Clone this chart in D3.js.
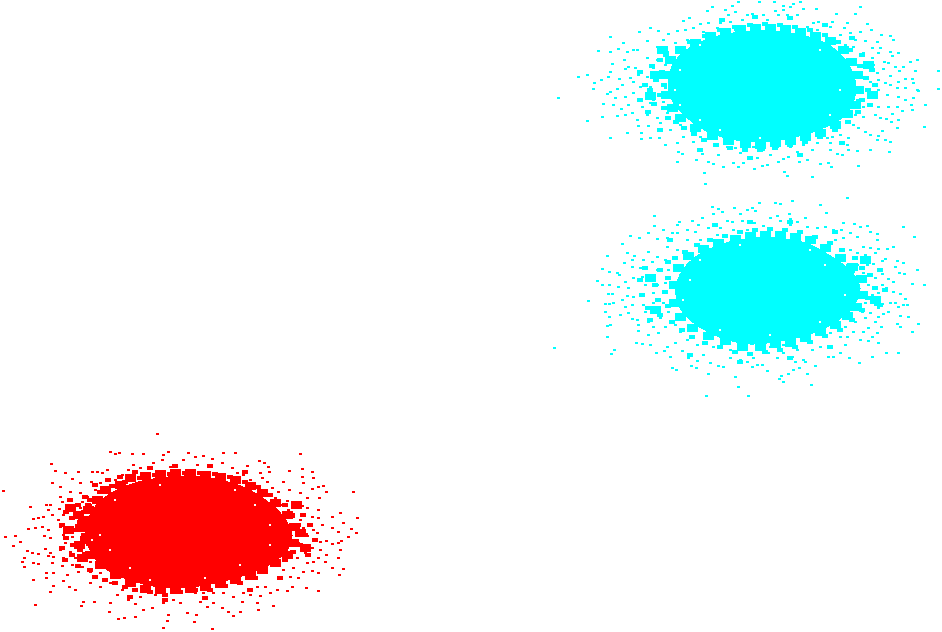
<!DOCTYPE html>
<html><head><meta charset="utf-8"><script src="https://cdn.jsdelivr.net/npm/d3@7"></script>
<style>html,body{margin:0;padding:0;background:#fff;overflow:hidden}svg{display:block}</style></head><body>
<script>
const redCore=[[88,530],[95,510],[112,495],[135,485],[160,480],[190,478],[220,482],[245,490],[265,502],[282,518],[290,535],[285,550],[268,563],[245,573],[220,580],[190,585],[160,585],[130,578],[108,568],[93,552]];
const cyanTopCore=[[670,85],[675,65],[690,50],[712,40],[740,34],[770,33],[800,37],[825,45],[843,60],[853,80],[852,100],[840,117],[818,128],[790,136],[760,140],[730,137],[705,128],[685,113],[673,98]];
const cyanBottomCore=[[678,295],[682,275],[695,260],[717,248],[745,241],[775,240],[805,245],[830,258],[850,273],[858,288],[852,305],[835,320],[810,332],[780,339],[750,342],[722,336],[700,325],[685,312]];
const redEdge=[[83,520],[85,540],[88,510],[90,555],[97,500],[100,565],[105,490],[115,575],[120,485],[130,478],[130,583],[145,476],[145,589],[160,474],[160,590],[175,473],[175,590],[190,473],[190,589],[205,475],[205,587],[220,477],[220,584],[235,480],[235,580],[250,486],[250,576],[262,493],[262,570],[275,503],[275,563],[287,515],[287,555],[294,527],[293,543],[80,528],[78,515],[79,545],[82,558],[300,533],[68,530],[70,508],[296,505],[305,548]];
const cyanTopEdge=[[666,75],[666,95],[670,60],[672,108],[680,50],[680,118],[695,43],[695,128],[710,36],[712,136],[725,32],[728,141],[740,29],[745,144],[755,28],[760,145],[770,28],[775,143],[785,29],[790,141],[800,32],[805,137],[815,36],[820,133],[830,41],[835,125],[843,50],[847,114],[851,62],[855,105],[857,75],[858,90],[655,75],[650,96],[662,50],[868,65],[872,95]];
const cyanBottomEdge=[[674,285],[674,303],[678,268],[680,317],[688,256],[692,328],[703,249],[708,336],[718,243],[725,341],[735,239],[742,347],[750,236],[760,347],[765,235],[775,344],[780,235],[790,343],[795,237],[805,338],[810,240],[820,332],[825,248],[835,325],[840,258],[847,316],[852,267],[856,307],[861,279],[862,295],[650,278],[655,310],[865,260],[875,300]];
const redClumps=[[85,497],[78,505],[84,512],[72,518],[80,522],[88,505],[76,530],[84,535],[66,538],[73,545],[80,550],[72,555],[84,560],[78,566],[90,570],[95,577],[105,580],[115,583],[125,587],[135,590],[150,592],[165,595],[180,592],[195,590],[210,590],[225,586],[240,583],[255,578],[265,572],[275,565],[285,560],[293,552],[300,545],[305,535],[298,525],[292,515],[303,515],[285,505],[270,495],[258,487],[245,482],[230,477],[215,474],[200,473],[185,473],[170,474],[155,475],[140,478],[125,482],[112,486],[100,492],[90,500],[95,485],[108,480],[120,477],[135,472],[62,525],[66,512],[70,500],[62,548],[65,560],[150,468],[175,466],[210,466],[245,472],[315,540],[310,525],[308,555],[280,578],[250,590],[130,597],[165,600],[205,598]];
const cyanTopClumps=[[660,60],[652,66],[662,72],[656,80],[664,85],[650,90],[660,95],[654,104],[664,108],[668,118],[676,122],[684,128],[694,134],[704,140],[716,145],[730,148],[745,150],[760,150],[775,148],[790,145],[805,142],[820,137],[835,130],[848,122],[858,112],[862,100],[868,90],[866,78],[860,66],[862,55],[850,50],[838,42],[825,35],[810,30],[795,27],[780,25],[765,24],[750,25],[735,27],[720,30],[705,36],[690,42],[678,50],[666,55],[872,70],[875,85],[870,105],[640,72],[645,85],[640,100],[648,112],[722,20],[755,17],[790,18],[825,25],[852,38],[660,130],[700,150],[750,158],[800,155],[842,143]];
const cyanBottomClumps=[[668,262],[660,270],[668,278],[655,285],[665,292],[658,300],[668,306],[660,315],[672,322],[682,330],[692,337],[705,343],[720,347],[735,352],[750,354],[765,352],[780,350],[795,347],[810,342],[825,336],[840,330],[852,320],[862,310],[868,298],[875,288],[870,275],[862,268],[855,258],[842,250],[830,243],[815,237],[800,232],[785,230],[770,229],[755,230],[740,232],[725,236],[710,240],[697,245],[685,252],[675,258],[645,268],[640,280],[642,295],[648,308],[650,320],[885,290],[880,305],[880,270],[750,222],[715,225],[790,222],[835,232],[670,240],[690,355],[740,362],[790,358],[830,347]];
const redGaps=[[100,535],[115,500],[130,568],[150,580],[235,490],[255,505],[270,545],[240,565],[205,578],[270,525],[110,550],[92,540],[160,485]];
const cyanTopGaps=[[680,70],[680,105],[700,45],[720,130],[760,138],[820,50],[840,90],[830,115],[700,120],[675,90]];
const cyanBottomGaps=[[690,280],[683,300],[700,260],[720,330],[770,335],[825,265],[845,295],[820,322],[740,245],[810,250]];
const redPoints=[[157,434],[110,452],[119,453],[115,454],[132,454],[143,454],[163,455],[168,452],[188,453],[51,464],[55,471],[78,472],[65,473],[92,472],[97,472],[107,470],[102,473],[133,465],[140,468],[153,463],[162,460],[183,460],[170,467],[128,470],[52,483],[72,479],[80,483],[91,482],[100,483],[115,480],[122,475],[3,491],[60,487],[70,492],[80,493],[87,497],[95,490],[98,498],[60,497],[107,492],[30,507],[50,505],[46,505],[62,502],[82,502],[90,505],[48,510],[59,509],[70,510],[80,508],[33,519],[38,518],[43,517],[52,515],[63,515],[75,515],[83,517],[58,520],[28,529],[35,528],[42,527],[48,530],[60,527],[68,527],[78,525],[87,528],[5,537],[15,536],[20,542],[13,546],[44,536],[50,538],[63,535],[72,537],[82,537],[65,543],[78,545],[87,545],[45,549],[27,551],[32,553],[38,554],[50,553],[60,550],[70,552],[83,553],[24,558],[22,562],[33,563],[38,564],[48,556],[53,557],[63,558],[75,558],[90,562],[24,567],[52,563],[62,566],[72,565],[82,567],[46,573],[53,573],[67,575],[78,572],[90,572],[100,573],[33,580],[46,578],[63,581],[53,586],[69,587],[75,590],[50,592],[90,583],[100,587],[110,583],[122,590],[35,605],[81,606],[83,602],[94,602],[110,603],[109,612],[118,619],[124,618],[135,604],[143,610],[135,617],[152,608],[163,603],[168,615],[167,621],[163,628],[187,613],[180,603],[117,595],[128,600],[140,597],[155,595],[173,600],
[235,453],[223,453],[203,456],[195,457],[212,459],[259,461],[300,454],[197,465],[210,466],[222,463],[232,468],[247,466],[264,463],[268,467],[289,471],[302,469],[269,472],[312,472],[193,472],[237,473],[243,475],[260,473],[302,477],[313,478],[250,480],[262,478],[267,482],[283,482],[303,483],[323,486],[312,489],[318,487],[289,490],[272,488],[278,492],[300,493],[326,492],[353,492],[307,498],[319,498],[287,501],[295,502],[275,498],[265,502],[302,506],[307,508],[318,510],[288,510],[280,505],[312,517],[332,517],[340,513],[357,518],[318,518],[300,520],[293,517],[322,525],[343,523],[332,528],[338,532],[351,529],[356,533],[348,537],[313,530],[303,528],[297,532],[307,536],[317,533],[326,541],[341,541],[332,544],[338,543],[320,542],[312,548],[320,550],[340,550],[326,555],[305,553],[298,543],[290,545],[338,558],[318,558],[313,562],[307,563],[325,562],[297,558],[287,557],[332,568],[343,569],[312,571],[318,573],[303,572],[293,568],[283,570],[339,575],[298,578],[290,577],[278,578],[306,588],[318,591],[292,587],[287,591],[277,590],[265,587],[257,587],[250,595],[243,593],[260,596],[270,593],[233,597],[223,593],[213,593],[203,593],[195,593],[213,603],[222,608],[207,607],[233,616],[240,612],[228,612],[258,610],[273,606],[196,615],[194,622],[212,629],[257,603],[242,602],[200,602]];
const cyanTopPoints=[[558,98],[578,77],[587,75],[594,83],[593,89],[587,121],[602,117],[603,104],[601,80],[610,37],[598,51],[610,52],[623,43],[618,49],[627,52],[639,32],[647,41],[637,50],[612,64],[624,60],[633,50],[628,67],[625,69],[610,72],[608,77],[619,79],[630,78],[635,68],[638,75],[647,77],[622,85],[617,89],[610,92],[607,94],[633,82],[640,87],[650,87],[615,98],[625,97],[633,93],[647,95],[613,105],[628,105],[621,109],[642,107],[650,103],[632,113],[617,116],[625,115],[647,115],[637,120],[657,118],[638,126],[648,126],[660,123],[670,130],[610,138],[627,133],[641,133],[641,139],[650,138],[659,138],[665,145],[677,143],[683,137],[693,142],[678,152],[682,154],[677,162],[702,154],[708,162],[696,160],[713,164],[718,155],[723,167],[733,163],[738,167],[743,163],[704,173],[705,184],[727,147],[740,153],[747,147],[738,2],[732,6],[712,7],[707,11],[725,10],[735,12],[728,15],[747,15],[689,18],[683,21],[700,24],[708,23],[720,23],[730,22],[742,20],[650,28],[658,31],[677,31],[685,30],[668,34],[693,28],[703,32],[717,28],[735,30],[747,32],[663,40],[675,43],[687,40],[697,40],[708,38],[657,47],[667,52],[682,48],[693,48],[647,58],[657,60],[665,65],[653,68],[660,77],[665,88],[653,100],[663,102],[667,113],[680,125],[700,137],[717,145],[735,148],
[759,2],[774,2],[793,4],[800,2],[783,6],[790,7],[775,11],[783,10],[803,9],[816,9],[860,7],[836,14],[855,14],[797,15],[778,15],[763,15],[752,14],[787,15],[767,20],[818,22],[813,23],[832,22],[847,23],[867,24],[795,27],[807,27],[830,27],[844,28],[860,32],[871,30],[881,35],[850,33],[840,35],[817,30],[890,36],[893,40],[855,40],[865,41],[877,42],[845,45],[853,47],[872,48],[880,48],[890,52],[898,53],[863,53],[878,53],[892,56],[872,58],[884,62],[910,62],[917,60],[865,63],[873,65],[857,65],[888,63],[895,67],[903,67],[883,69],[899,71],[915,71],[938,71],[853,72],[877,73],[890,76],[905,79],[898,82],[912,79],[863,78],[870,82],[878,80],[885,83],[890,85],[913,83],[918,91],[938,89],[855,88],[867,90],[878,90],[887,95],[897,88],[905,88],[917,90],[898,97],[913,98],[905,100],[857,100],[870,97],[878,107],[888,107],[897,107],[925,105],[911,105],[902,111],[912,110],[863,107],[875,115],[863,117],[855,115],[892,114],[886,119],[891,122],[898,120],[880,118],[853,125],[865,132],[858,128],[897,128],[924,127],[882,131],[878,136],[885,140],[890,142],[877,140],[870,135],[848,138],[840,135],[832,137],[827,138],[817,143],[847,145],[830,143],[837,154],[842,155],[830,150],[812,150],[797,152],[788,157],[778,162],[783,159],[807,160],[799,162],[820,164],[828,163],[831,167],[857,151],[848,150],[870,150],[889,152],[858,166],[784,172],[787,176],[812,177],[767,165],[762,166],[754,169],[757,158],[770,155],[763,150],[753,147],[777,147],[790,147],[803,145]];
const cyanBottomPoints=[[554,348],[588,301],[597,281],[602,269],[607,256],[622,244],[630,236],[639,238],[654,216],[654,226],[648,233],[663,230],[677,233],[677,225],[679,222],[692,221],[702,218],[712,207],[722,212],[734,208],[718,209],[740,214],[747,210],[713,214],[727,221],[742,221],[715,224],[698,225],[687,230],[695,232],[708,228],[720,228],[732,222],[667,238],[657,239],[672,233],[687,240],[700,240],[717,235],[733,230],[747,230],[667,247],[677,250],[648,252],[657,257],[665,260],[627,253],[634,256],[624,263],[632,260],[643,260],[652,262],[617,273],[609,272],[619,275],[632,267],[640,268],[657,270],[668,270],[633,278],[642,277],[647,277],[602,285],[609,285],[618,287],[625,282],[645,285],[657,285],[665,283],[628,288],[608,294],[612,294],[627,296],[633,297],[643,295],[653,293],[663,292],[622,300],[632,305],[625,307],[605,304],[609,304],[613,303],[643,305],[653,303],[663,303],[605,312],[609,317],[620,315],[628,313],[645,312],[657,310],[668,312],[632,319],[637,320],[648,322],[660,318],[607,326],[610,325],[638,325],[653,327],[665,327],[675,325],[638,331],[648,335],[658,333],[680,332],[607,337],[636,343],[642,344],[650,345],[667,347],[675,343],[687,340],[697,345],[614,350],[611,354],[656,353],[664,351],[670,357],[682,351],[688,358],[697,361],[691,366],[703,355],[710,363],[718,366],[723,367],[730,358],[740,360],[747,362],[672,368],[676,370],[696,368],[708,374],[735,377],[738,387],[706,396],[748,396],[713,347],[730,350],[745,350],
[847,198],[792,201],[775,203],[780,204],[759,203],[820,205],[752,208],[755,211],[826,213],[789,214],[777,216],[805,218],[770,218],[790,219],[780,221],[797,222],[843,223],[854,224],[867,226],[903,227],[860,227],[763,226],[754,223],[790,225],[807,227],[817,228],[825,227],[833,230],[841,230],[870,232],[877,234],[914,237],[850,233],[857,237],[843,238],[835,240],[877,240],[863,247],[893,247],[878,249],[887,249],[870,248],[850,250],[857,253],[843,255],[865,255],[875,253],[885,259],[882,261],[897,261],[903,263],[873,264],[895,267],[867,265],[857,265],[847,265],[917,270],[878,270],[899,273],[904,274],[853,272],[863,273],[882,274],[888,279],[893,282],[912,284],[924,285],[875,278],[868,285],[882,285],[886,288],[893,292],[900,294],[905,299],[878,293],[872,295],[863,293],[857,288],[895,303],[890,303],[882,304],[875,305],[865,303],[903,305],[907,305],[898,307],[878,308],[888,312],[870,313],[862,312],[853,310],[908,317],[900,316],[878,317],[883,314],[865,318],[855,322],[875,322],[897,324],[918,324],[900,327],[881,327],[868,328],[845,327],[837,325],[912,332],[877,333],[853,332],[863,332],[872,337],[860,340],[868,341],[878,343],[847,337],[840,337],[830,333],[898,353],[886,353],[872,357],[859,363],[845,345],[840,353],[833,357],[828,357],[849,358],[820,347],[812,350],[803,360],[815,366],[795,362],[792,357],[783,353],[777,358],[768,353],[757,365],[762,365],[753,358],[752,367],[767,371],[799,368],[793,370],[807,374],[788,374],[781,376],[779,379],[783,382],[811,385],[805,362],[797,350],[770,347],[760,347],[783,345]];
const clusters=[
 {name:"red",color:"#ff0000",core:redCore,points:redPoints,clumps:redClumps,edge:redEdge,gaps:redGaps},
 {name:"cyan-top",color:"#00ffff",core:cyanTopCore,points:cyanTopPoints,clumps:cyanTopClumps,edge:cyanTopEdge,gaps:cyanTopGaps},
 {name:"cyan-bottom",color:"#00ffff",core:cyanBottomCore,points:cyanBottomPoints,clumps:cyanBottomClumps,edge:cyanBottomEdge,gaps:cyanBottomGaps}
];
const W=942,H=632;
const x=d3.scaleLinear().domain([0,942]).range([0,W]);
const y=d3.scaleLinear().domain([0,632]).range([0,H]);
const svg=d3.select("body").append("svg").attr("width",W).attr("height",H);
svg.append("rect").attr("width",W).attr("height",H).attr("fill","#fff");
const line=d3.line().x(d=>x(d[0])).y(d=>y(d[1])).curve(d3.curveCatmullRomClosed);
const g=svg.selectAll("g.cluster").data(clusters).join("g").attr("class","cluster").attr("shape-rendering","crispEdges");
function dots(sel,key,cls,w,h,fill){
 sel.selectAll("rect."+cls).data(d=>d[key].map(p=>({p,color:d.color}))).join("rect").attr("class",cls)
  .attr("x",d=>x(d.p[0])-w/2).attr("y",d=>y(d.p[1])-h/2).attr("width",w).attr("height",h).attr("fill",fill||(d=>d.color));
}
dots(g,"clumps","clump",6,4);
dots(g,"edge","edge",11,8);
g.append("path").attr("d",d=>line(d.core)).attr("fill",d=>d.color).attr("stroke",d=>d.color).attr("stroke-width",5);
dots(g,"points","point",3,2);
dots(g,"gaps","gap",2,2,"#fff");
</script></body></html>
